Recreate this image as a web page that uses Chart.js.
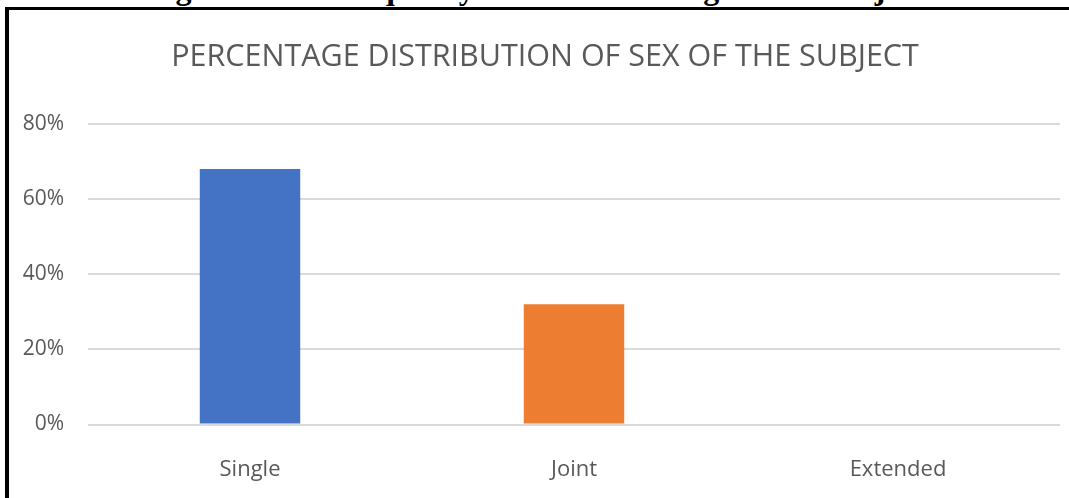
<!DOCTYPE html>
<html>
<head>
<meta charset="utf-8">
<script src="https://cdn.jsdelivr.net/npm/chart.js@4/dist/chart.umd.min.js"></script>
<style>
  html, body { margin: 0; padding: 0; background: #fff; overflow: hidden; }
  #caption {
    position: absolute; left: 0; top: 0; width: 1069px; height: 7px;
    overflow: hidden;
  }
  #caption span {
    position: absolute; left: 147px; top: -28px; white-space: nowrap;
    font: bold 32px/32px "Liberation Serif", "DejaVu Serif", serif; color: #000;
  }
  #frame {
    position: absolute; left: 5px; top: 7px; width: 1080px; height: 500px;
    border-top: 3px solid #000; border-left: 4px solid #000;
  }
  #wrap { position: absolute; left: 0; top: 0; width: 1069px; height: 498px; }
</style>
</head>
<body>
<div id="caption"><span>Figure no. 4: Frequency distribution of age of the subjects</span></div>
<div id="wrap"><canvas id="myChart"></canvas></div>
<div id="frame"></div>
<script>
// Family type of the subjects, in percent
var categories = ['Single', 'Joint', 'Extended']
var percentages = [68, 32, 0]
var barColors = ['#4472C4', '#ED7D31', '#A5A5A5']
var yTicks = [0, 20, 40, 60, 80]

var textColor = '#595959'
var fontFamily = '"Open Sans", Lato, sans-serif'

var ctx = document.getElementById('myChart').getContext('2d')

// nudge the title a little right of the canvas centre
var titleShift = {
    id: 'titleShift',
    afterLayout: chart => { chart.titleBlock.left += 30 },
}

var data = {
    labels: categories,
    datasets: [{
        data: percentages,
        backgroundColor: barColors,
        barPercentage: 0.31,
        categoryPercentage: 1,
    }]
}

var options = {
    responsive: true,
    maintainAspectRatio: false,
    animation: false,
    layout: {
        padding: { left: 0, right: 9, top: 0, bottom: 0 }
    },
    plugins: {
        legend: { display: false },
        tooltip: { enabled: false },
        title: {
            display: true,
            text: 'PERCENTAGE DISTRIBUTION OF SEX OF THE SUBJECT',
            color: textColor,
            font: { family: fontFamily, size: 30.5, weight: 'normal', lineHeight: 1.2 },
            padding: { top: 39, bottom: 48.4 },
        },
    },
    scales: {
        x: {
            grid: { display: false },
            border: { display: false },
            ticks: {
                color: textColor,
                font: { family: fontFamily, size: 22 },
                padding: 24,
            },
            afterFit: scale => { scale.height = 73.5 },
        },
        y: {
            min: 0,
            max: 80,
            afterBuildTicks: scale => { scale.ticks = yTicks.map(v => ({ value: v })) },
            grid: { color: '#d9d9d9', lineWidth: 2, drawTicks: false },
            border: { display: false },
            ticks: {
                color: textColor,
                font: { family: fontFamily, size: 21 },
                padding: 24,
                callback: v => v + '%',
            },
            afterFit: scale => { scale.width = 88 },
        },
    },
}

var myChart = new Chart(ctx, {
    type: 'bar',
    data: data,
    options: options,
    plugins: [titleShift],
})
</script>
</body>
</html>
